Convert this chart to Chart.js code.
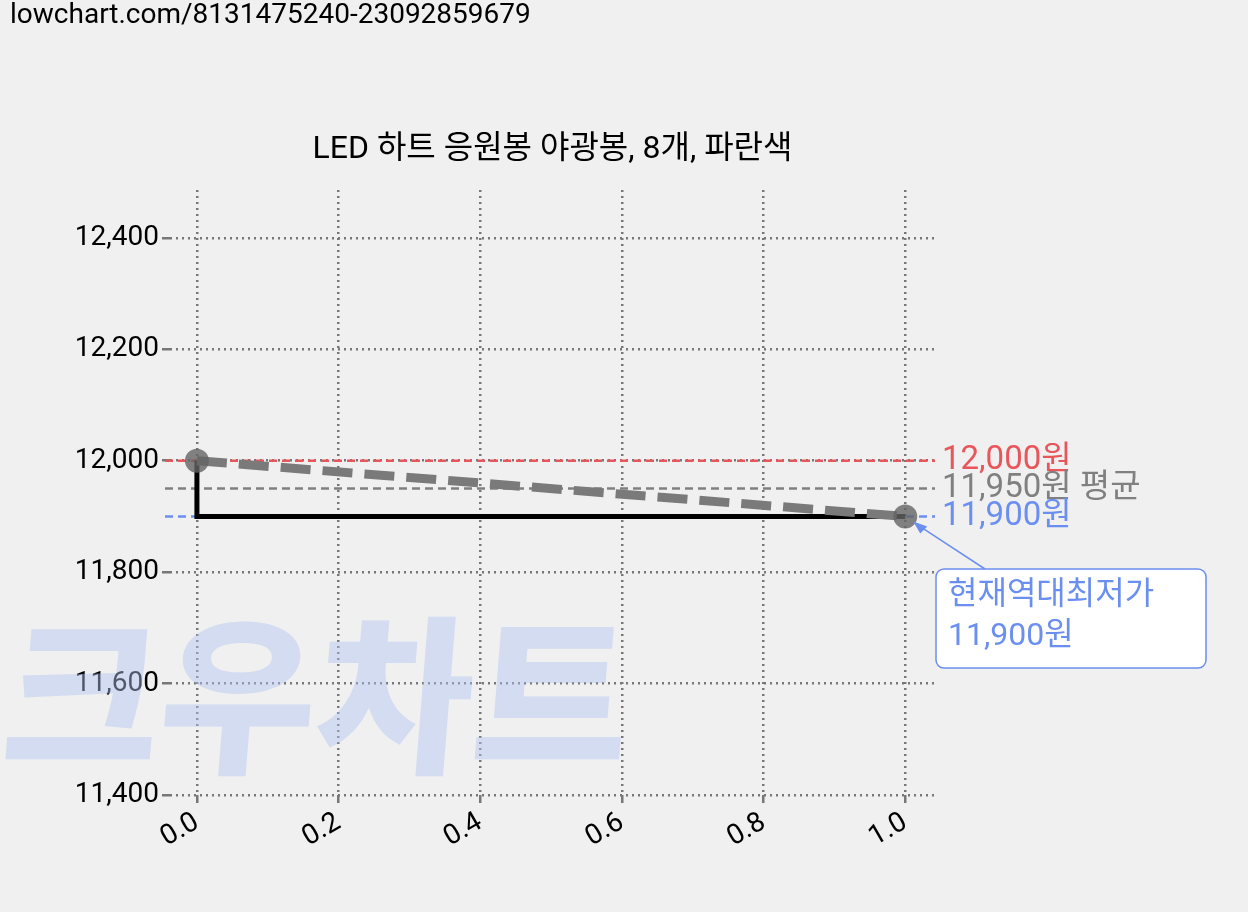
<!DOCTYPE html><html><head><meta charset="utf-8">
<script src="https://cdn.jsdelivr.net/npm/chart.js@4"></script>
<style>body{margin:0;background:#f0f0f0}canvas{display:block}</style></head><body>
<canvas id="c" width="1248" height="912"></canvas>
<script>
const xValues=[0,1];
const priceValues=[12000,11900];
const stepValues=[12000,11900];
const maxPrice=12000, avgPrice=11950, minPrice=11900;
const titleText='LED 하트 응원봉 야광봉, 8개, 파란색';
const urlText='lowchart.com/8131475240-23092859679';
const F='Roboto, "Noto Sans CJK KR", sans-serif';
const pts=a=>a.map((v,i)=>({x:xValues[i],y:v}));
const deco={id:'deco',
 beforeDraw(ch){const c=ch.ctx,a=ch.chartArea;c.save();c.fillStyle='#f0f0f0';c.fillRect(0,0,ch.width,ch.height);
  c.fillStyle='#000';c.font='28px '+F;c.textBaseline='middle';c.fillText(urlText,10,16);
  c.textAlign='center';c.font='32px '+F;c.fillText(titleText,(a.left+a.right)/2,150);c.restore();},
 beforeDatasetsDraw(ch){const c=ch.ctx,a=ch.chartArea,y=ch.scales.y;c.save();
  c.fillStyle='rgba(175,195,240,0.45)';c.font='900 170px "Noto Sans CJK KR"';c.textBaseline='alphabetic';
  c.setTransform(1,0,-0.08,1,0,0);c.fillText('크우차트',60,760);c.setTransform(1,0,0,1,0,0);
  [[maxPrice,'#e8555a'],[avgPrice,'#808080'],[minPrice,'#6b8ff0']].forEach(([v,col])=>{
   c.strokeStyle=col;c.lineWidth=2.5;c.setLineDash([8,5]);c.beginPath();c.moveTo(165,y.getPixelForValue(v));c.lineTo(a.right,y.getPixelForValue(v));c.stroke();});
  c.restore();},
 afterDraw(ch){const c=ch.ctx,y=ch.scales.y,x=ch.scales.x;c.save();c.font='33px '+F;c.textBaseline='middle';
  c.fillStyle='#e8555a';c.fillText('12,000원',942,y.getPixelForValue(maxPrice));
  c.fillStyle='#808080';c.fillText('11,950원 평균',942,y.getPixelForValue(avgPrice));
  c.fillStyle='#6b8ff0';c.fillText('11,900원',942,y.getPixelForValue(minPrice));
  const px=x.getPixelForValue(1),py=y.getPixelForValue(minPrice);
  c.strokeStyle='#6b8ff0';c.lineWidth=1.5;c.beginPath();c.moveTo(985,569);c.lineTo(px+10,py+7);c.stroke();
  c.fillStyle='#6b8ff0';c.beginPath();c.moveTo(px+8,py+5);c.lineTo(px+22,py+10);c.lineTo(px+15,py+17);c.fill();
  c.fillStyle='#fff';c.beginPath();c.roundRect(936,569,270,99,8);c.fill();c.stroke();
  c.fillStyle='#6b8ff0';c.font='32px '+F;c.fillText('현재역대최저가',948,596);c.fillText('11,900원',948,637);
  c.restore();}};
new Chart(document.getElementById('c'),{type:'scatter',
 data:{datasets:[
  {data:pts(stepValues),showLine:true,stepped:'after',borderColor:'#000',borderWidth:5,pointRadius:0,order:2},
  {data:pts(priceValues),showLine:true,borderColor:'#7a7a7a',borderWidth:9,borderDash:[30,12],pointRadius:12,pointBackgroundColor:'rgba(100,100,100,0.8)',pointBorderWidth:0,order:1}]},
 options:{responsive:false,animation:false,devicePixelRatio:1,
  layout:{padding:{top:190,right:313,bottom:0,left:0}},
  plugins:{legend:{display:false},tooltip:{enabled:false},title:{display:false}},
  scales:{
   x:{type:'linear',min:-0.038,max:1.042,afterBuildTicks(s){s.ticks=[0,0.2,0.4,0.6,0.8,1].map(v=>({value:v}));},
    afterFit(s){s.height=117;},
    grid:{color:'#777',lineWidth:2.5,tickLength:8},border:{display:false,dash:[2,4]},
    ticks:{color:'#000',font:{family:F,size:28},maxRotation:30,minRotation:30,callback:v=>v.toFixed(1)}},
   y:{min:11400,max:12486,afterBuildTicks(s){s.ticks=[11400,11600,11800,12000,12200,12400].map(v=>({value:v}));},
    afterFit(s){s.width=170;},
    grid:{color:'#777',lineWidth:2.5,tickLength:8},border:{display:false,dash:[2,4]},
    ticks:{color:'#000',font:{family:F,size:28},callback:v=>v.toLocaleString('en-US')}}}},
 plugins:[deco]});
</script></body></html>
